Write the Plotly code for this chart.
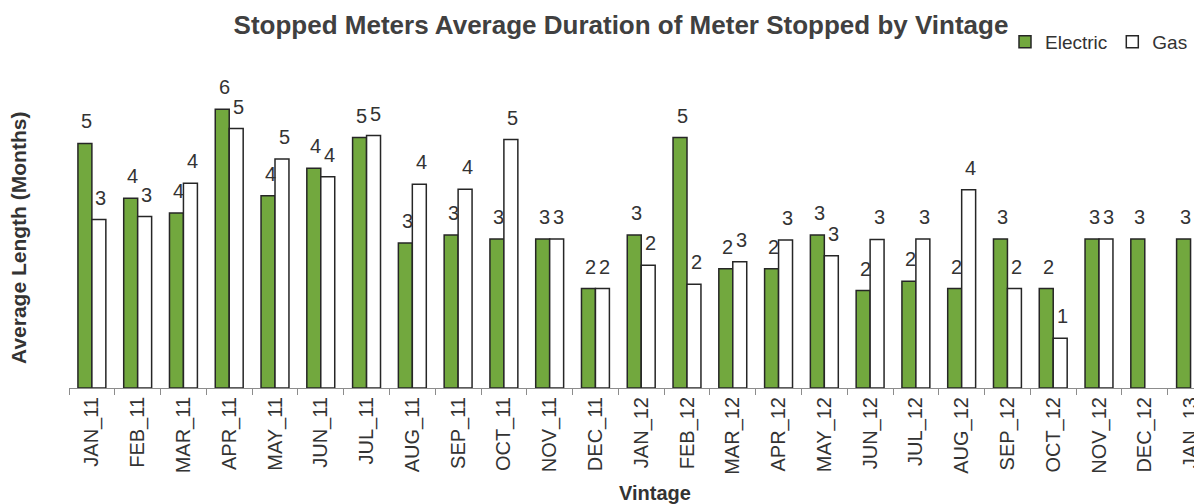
import plotly.graph_objects as go

categories = ["JAN_11", "FEB_11", "MAR_11", "APR_11", "MAY_11", "JUN_11", "JUL_11",
              "AUG_11", "SEP_11", "OCT_11", "NOV_11", "DEC_11", "JAN_12", "FEB_12",
              "MAR_12", "APR_12", "MAY_12", "JUN_12", "JUL_12", "AUG_12", "SEP_12",
              "OCT_12", "NOV_12", "DEC_12", "JAN_13"]

electric = [4.92, 3.82, 3.52, 5.61, 3.87, 4.42, 5.04,
            2.92, 3.08, 3.00, 3.00, 2.00, 3.08, 5.04,
            2.40, 2.40, 3.08, 1.96, 2.15, 2.00, 3.00,
            2.00, 3.00, 3.00, 3.00]

gas = [3.39, 3.45, 4.12, 5.22, 4.61, 4.25, 5.08,
       4.10, 4.00, 5.00, 3.00, 2.00, 2.47, 2.09,
       2.54, 2.98, 2.66, 2.99, 3.00, 3.99, 2.00,
       1.00, 3.00, None, None]

FONT = "Liberation Sans, Arial, sans-serif"
TXT = "#333333"
GREEN = "#72a83e"
EDGE = "#262626"

# page offset (browser body margin) compensation
OFF = 8
L, T, BASE = 69 - OFF, 60 - OFF, 388 - OFF
PLOT_W = 1133
PLOT_H = BASE - T
PX_PER_UNIT = 49.7

fig = go.Figure()
fig.add_trace(go.Bar(
    name="Electric", x=categories, y=electric,
    marker=dict(color=GREEN, line=dict(color=EDGE, width=1.5)),
))
fig.add_trace(go.Bar(
    name="Gas", x=categories, y=gas,
    marker=dict(color="white", line=dict(color=EDGE, width=1.5)),
))

annotations = []
for series, shift in ((electric, -7), (gas, 7)):
    for c, v in zip(categories, series):
        if v is None:
            continue
        annotations.append(dict(
            x=c, y=v, xref="x", yref="y", text=str(int(v + 0.5)),
            showarrow=False, xshift=shift + 2, yshift=22,
            font=dict(family=FONT, size=20, color=TXT),
        ))

annotations.append(dict(
    text="<b>Average Length (Months)</b>", textangle=-90,
    xref="paper", yref="paper", x=(18 - OFF - L) / PLOT_W, y=(BASE - (238 - OFF)) / PLOT_H,
    xanchor="center", yanchor="middle", showarrow=False,
    font=dict(family=FONT, size=21, color=TXT),
))
annotations.append(dict(
    text="<b>Vintage</b>",
    xref="paper", yref="paper", x=(655 - OFF - L) / PLOT_W, y=(BASE - (493 - OFF)) / PLOT_H,
    xanchor="center", yanchor="middle", showarrow=False,
    font=dict(family=FONT, size=20, color=TXT),
))

fig.update_layout(
    width=1202, height=504,
    margin=dict(l=L, r=1202 - L - PLOT_W, t=T, b=504 - BASE),
    paper_bgcolor="white", plot_bgcolor="white",
    barmode="group", bargap=0.39, bargroupgap=0,
    title=dict(
        text="<b>Stopped Meters Average Duration of Meter Stopped by Vintage</b>",
        x=(621 - OFF) / 1202, xanchor="center", y=1 - (25 - OFF) / 504, yanchor="middle",
        font=dict(family=FONT, size=26, color="#404040"),
    ),
    legend=dict(
        orientation="h", x=1.0 - 9 / PLOT_W, xanchor="right", y=1 + (T - (42 - OFF)) / PLOT_H,
        yanchor="middle",
        font=dict(family=FONT, size=19, color=TXT), bgcolor="rgba(0,0,0,0)",
        itemwidth=30, tracegroupgap=0,
    ),
    xaxis=dict(
        range=[-0.5, 24.25], showgrid=False, showline=True, linecolor="#8c8c8c", linewidth=1,
        ticks="outside", tickson="boundaries", ticklen=6, tickcolor="#8c8c8c",
        tickangle=-90, tickfont=dict(family=FONT, size=20, color=TXT),
    ),
    yaxis=dict(
        range=[0, PLOT_H / PX_PER_UNIT], showgrid=False, showline=False, showticklabels=False,
        ticks="", zeroline=False,
    ),
    annotations=annotations,
    font=dict(family=FONT, color=TXT),
)

fig.write_html("out.html")
